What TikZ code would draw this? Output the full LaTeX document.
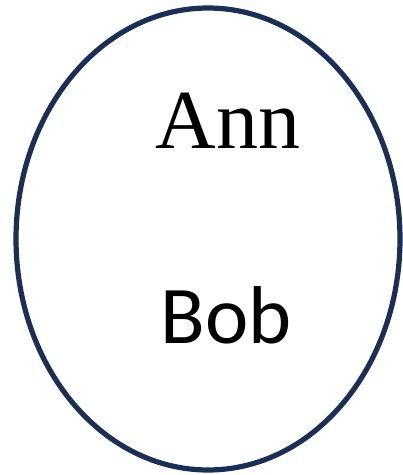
\documentclass[tikz,border=0pt]{standalone}
\usepackage{fontspec}
\setmainfont{Liberation Serif}
\newfontfamily\bobfont{Carlito}
\usepackage{tikz}
\definecolor{set-navy}{HTML}{1A2F58}

\begin{document}
\begin{tikzpicture}[x=1pt, y=-1pt]
    \useasboundingbox (0,0) rectangle (403,475);
    \draw[line width=5.2pt, set-navy] (208,239) ellipse (192 and 231);
    \node[anchor=base, inner sep=0pt] (ann) at (228,148) {\fontsize{84}{90}\selectfont Ann};
    \node[anchor=base, inner sep=0pt] (bob) at (226,343) {\bobfont\fontsize{82}{90}\selectfont Bob};
\end{tikzpicture}
\end{document}
